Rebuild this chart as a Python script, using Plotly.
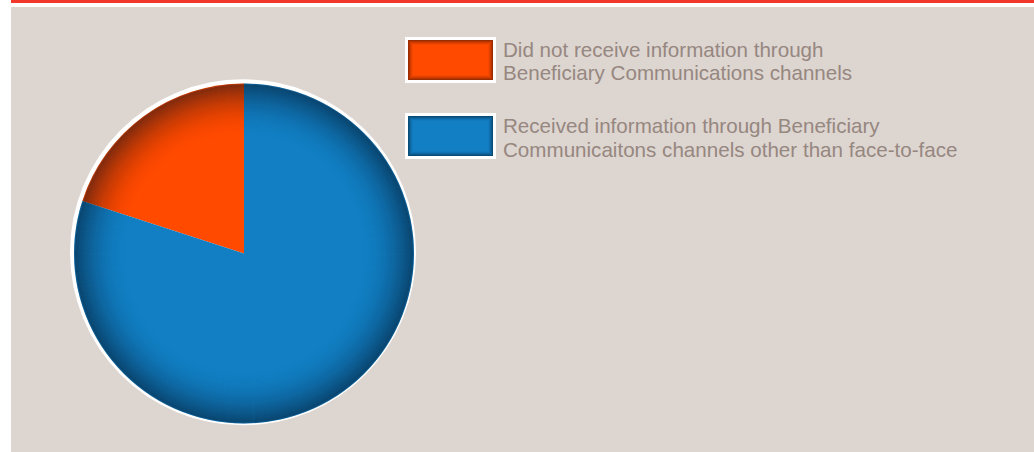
import plotly.graph_objects as go

# Share of beneficiaries by how they received information
labels = [
    "Did not receive information through Beneficiary Communications channels",
    "Received information through Beneficiary Communicaitons channels other than face-to-face",
]
values = [20, 80]
colors = ["#ff4a00", "#127fc4"]

# Legend text, one entry per slice, split over two lines
legend_lines = [
    ["Did not receive information through", "Beneficiary Communications channels"],
    ["Received information through Beneficiary", "Communicaitons channels other than face-to-face"],
]

W, H = 1034, 452
BG = "#ddd5d0"
TEXT = "#968780"
RED = "#f2382b"

# pie geometry in pixels
cx, cy, r = 244, 253.5, 170


def px(x):
    return x / W


def py(y):
    return 1 - y / H


fig = go.Figure()

# first slice ends at 12 o'clock, the rest runs clockwise from there
start = -360 * values[0] / sum(values)
fig.add_trace(go.Pie(
    labels=labels,
    values=values,
    sort=False,
    direction="clockwise",
    rotation=start,
    marker=dict(colors=colors, line=dict(width=0)),
    textinfo="none",
    hoverinfo="label+percent",
    showlegend=False,
    domain=dict(x=[px(cx - r), px(cx + r)], y=[py(cy + r), py(cy - r)]),
))

shapes = []
# top red rule and panel
shapes.append(dict(type="rect", xref="paper", yref="paper", layer="below",
                   x0=px(11), x1=1, y0=py(3), y1=1, fillcolor=RED, line=dict(width=0)))
shapes.append(dict(type="rect", xref="paper", yref="paper", layer="below",
                   x0=px(11), x1=1, y0=0, y1=py(7), fillcolor=BG, line=dict(width=0)))
# white rim behind the pie
rw = r + 3
ox, oy = cx - 1, cy - 1.2
shapes.append(dict(type="circle", xref="paper", yref="paper", layer="below",
                   x0=px(ox - rw), x1=px(ox + rw), y0=py(oy + rw), y1=py(oy - rw),
                   fillcolor="white", line=dict(width=0)))

# radial shading toward the edge of the pie (overlapping soft rings)
depth = 56
for i in range(depth):
    rr = r - 1 - i
    a = 0.30 * (1 - i / depth) ** 2.4
    shapes.append(dict(type="circle", xref="paper", yref="paper", layer="above",
                       x0=px(cx - rr), x1=px(cx + rr), y0=py(cy + rr), y1=py(cy - rr),
                       line=dict(width=2, color=f"rgba(5,15,30,{a:.4f})")))

# legend swatches
annotations = []
sw_top = [37, 113]
for k, top in enumerate(sw_top):
    shapes.append(dict(type="rect", xref="paper", yref="paper", layer="above",
                       x0=px(405), x1=px(496), y0=py(top + 46), y1=py(top),
                       fillcolor="white", line=dict(width=0)))
    shapes.append(dict(type="rect", xref="paper", yref="paper", layer="above",
                       x0=px(408), x1=px(493), y0=py(top + 43), y1=py(top + 3),
                       fillcolor=colors[k], line=dict(width=0)))
    # inner shading of the swatch
    for j in range(5):
        a = 0.40 * (1 - j / 5) ** 1.5
        shapes.append(dict(type="rect", xref="paper", yref="paper", layer="above",
                           x0=px(408.5 + j), x1=px(492.5 - j),
                           y0=py(top + 42.5 - j), y1=py(top + 3.5 + j),
                           line=dict(width=1, color=f"rgba(0,0,0,{a:.3f})")))
    for n, line in enumerate(legend_lines[k]):
        baseline = top + 19 + 24 * n
        annotations.append(dict(
            xref="paper", yref="paper", x=px(501), y=py(baseline - 7),
            xanchor="left", yanchor="middle", showarrow=False, text=line,
            font=dict(family="Liberation Sans, Arial, sans-serif", size=20.6,
                      color=TEXT, weight=300),
        ))

fig.update_layout(
    width=W, height=H,
    margin=dict(l=0, r=0, t=0, b=0),
    paper_bgcolor="white",
    plot_bgcolor="white",
    shapes=shapes,
    annotations=annotations,
    showlegend=False,
)

fig.write_html("out.html")
